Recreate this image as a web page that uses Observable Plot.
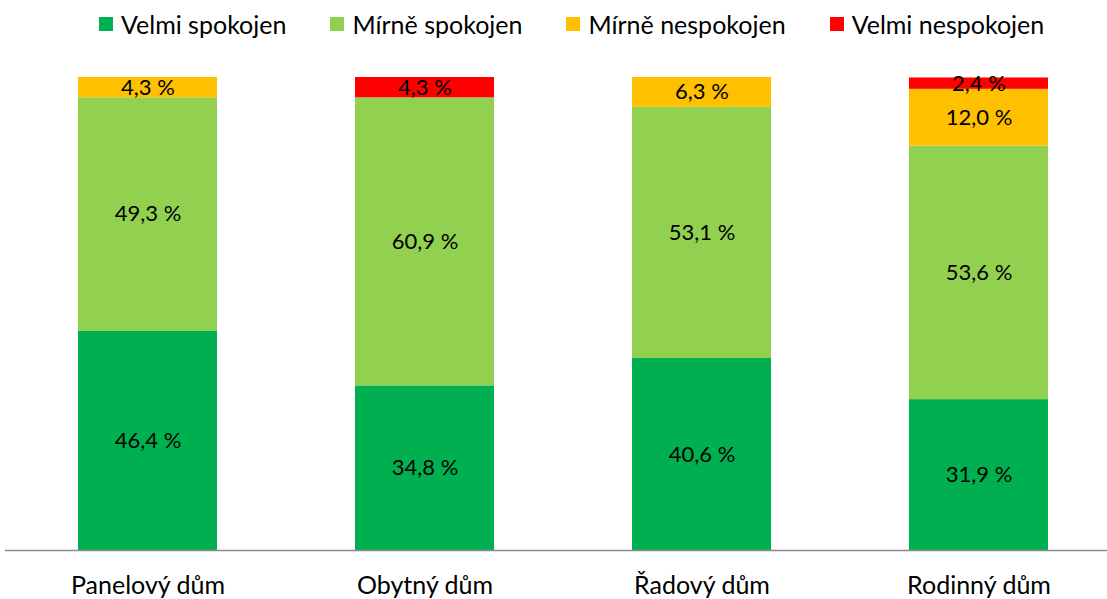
<!DOCTYPE html>
<html>
<head>
<meta charset="utf-8">
<script src="https://cdn.jsdelivr.net/npm/d3@7"></script>
<script src="https://cdn.jsdelivr.net/npm/@observablehq/plot@0.6"></script>
<style>
  html, body { margin: 0; padding: 0; background: #fff; }
  body { width: 1107px; height: 599px; overflow: hidden; font-family: Lato, "Open Sans", sans-serif; }
  #legend { height: 48px; display: flex; align-items: center; justify-content: flex-start; gap: 44px; padding-left: 99px; box-sizing: border-box; font-size: 25px; color: #000; }
  #legend .item { display: flex; align-items: center; gap: 8px; }
  #legend .sw { width: 14px; height: 14px; display: inline-block; }
  #chart svg { display: block; }
</style>
</head>
<body>
<div id="legend"></div>
<div id="chart"></div>
<script>
const categories = ["Panelový dům", "Obytný dům", "Řadový dům", "Rodinný dům"];
const seriesNames = ["Velmi spokojen", "Mírně spokojen", "Mírně nespokojen", "Velmi nespokojen"];
const seriesColors = ["#00B050", "#92D050", "#FFC000", "#FF0000"];
const velmiSpokojen = [46.4, 34.8, 40.6, 31.9];
const mirneSpokojen = [49.3, 60.9, 53.1, 53.6];
const mirneNespokojen = [4.3, 0, 6.3, 12.0];
const velmiNespokojen = [0, 4.3, 0, 2.4];

const seriesValues = [velmiSpokojen, mirneSpokojen, mirneNespokojen, velmiNespokojen];
const data = [];
seriesNames.forEach((s, si) => {
  categories.forEach((c, ci) => {
    data.push({category: c, series: s, value: seriesValues[si][ci]});
  });
});
const fmt = v => v.toFixed(1).replace(".", ",") + " %";

const legend = document.getElementById("legend");
seriesNames.forEach((s, i) => {
  const it = document.createElement("div");
  it.className = "item";
  const sw = document.createElement("span");
  sw.className = "sw";
  sw.style.background = seriesColors[i];
  const t = document.createElement("span");
  t.textContent = s;
  it.appendChild(sw); it.appendChild(t);
  legend.appendChild(it);
});

const H = 599 - 48;
const chart = Plot.plot({
  width: 1107,
  height: H,
  marginLeft: 5,
  marginRight: 0,
  marginTop: 29,
  marginBottom: H - 502,
  style: {fontFamily: "Lato, 'Open Sans', sans-serif", fontSize: "22px", color: "#000", background: "#fff"},
  x: {domain: categories, range: [9, 1117], paddingInner: 0.5, paddingOuter: 0.25, label: null},
  y: {domain: [0, 100], axis: null},
  color: {domain: seriesNames, range: seriesColors},
  marks: [
    Plot.barY(data, {x: "category", y: "value", fill: "series", order: seriesNames}),
    Plot.text(data, Plot.stackY({x: "category", y: "value", z: "series", order: seriesNames,
      text: d => d.value > 0 ? fmt(d.value) : "", fontSize: 22, fill: "#000"})),
    Plot.ruleY([0], {stroke: "#8c8c8c", strokeWidth: 1.5}),
    Plot.axisX({tickSize: 0, tickPadding: 26, fontSize: 25, fill: "#000"})
  ]
});
document.getElementById("chart").appendChild(chart);
</script>
</body>
</html>
